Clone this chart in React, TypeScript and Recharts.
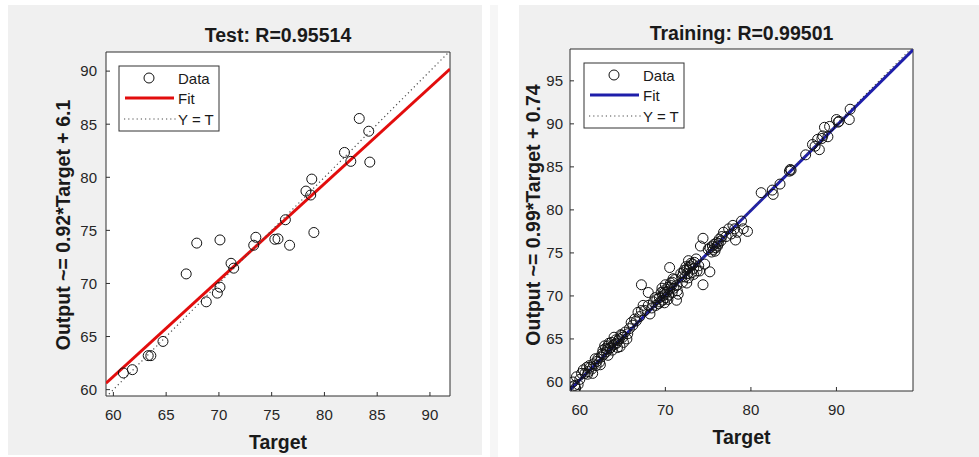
import React from "react";
import { ScatterChart, Scatter, XAxis, YAxis, CartesianGrid } from "recharts";

const FONT = '"Liberation Sans", Arial, Helvetica, sans-serif';

// ---- Test set ----
const testTarget = [
  60.95, 61.8, 63.3, 63.55, 64.7, 66.9, 67.9, 68.8, 69.85, 70.1, 70.1, 71.15, 71.4, 73.3,
  73.5, 75.3, 75.6, 76.3, 76.7, 78.25, 78.7, 78.8, 79.0, 81.9, 82.5, 83.3, 84.2, 84.3,
];
const testOutput = [
  61.57, 61.88, 63.2, 63.2, 64.54, 70.9, 73.8, 68.27, 69.09, 69.65, 74.1, 71.9, 71.44, 73.6,
  74.35, 74.16, 74.2, 76.0, 73.6, 78.7, 78.33, 79.83, 74.8, 82.34, 81.5, 85.54, 84.34, 81.43,
];
const testFitX = [59.3, 91.9];
const testFitY = [60.6, 90.2];
const testLimits = [59.3, 91.9];
const testXTicks = [60, 65, 70, 75, 80, 85, 90];
const testYTicks = [60, 65, 70, 75, 80, 85, 90];

// ---- Training set ----
const trainTarget = [
  59.2, 59.4, 59.8, 59.6, 60.2, 60.4, 60.8, 61.0, 61.2, 61.6, 61.8, 61.9, 62.1, 62.3, 62.5,
  62.7, 62.9, 63.1, 63.3, 63.3, 63.5, 63.7, 64.0, 64.1, 64.5, 64.7, 64.9, 65.1, 65.3, 65.5,
  65.8, 66.0, 66.6, 66.8, 67.2, 67.2, 67.4, 67.6, 68.0, 68.0, 68.2, 68.6, 68.8, 69.0, 69.2,
  69.3, 69.5, 69.7, 69.7, 69.9, 70.1, 70.3, 70.5, 70.5, 70.7, 70.8, 70.9, 71.3, 71.3, 71.5,
  71.9, 72.1, 72.3, 72.5, 72.5, 72.7, 72.9, 73.1, 73.2, 73.3, 73.6, 73.9, 74.1, 74.4, 74.4,
  74.6, 75.0, 75.2, 75.2, 75.4, 75.5, 75.8, 76.0, 76.1, 76.3, 76.5, 76.8, 77.1, 77.4, 77.7,
  78.1, 78.2, 78.4, 78.9, 79.1, 79.6, 81.2, 82.5, 82.6, 83.4, 84.5, 84.7, 86.4, 87.2, 87.5,
  87.8, 88.0, 88.4, 88.6, 89.0, 89.2, 90.0, 90.3, 91.5, 91.6, 60.6, 61.4, 62.0, 62.8, 63.0,
  63.6, 63.9, 64.3, 64.6, 65.0, 65.6, 66.2, 66.4, 67.0, 69.4, 69.8, 70.0, 70.2, 70.6, 71.0,
  71.8, 72.2, 72.6, 72.8, 73.4, 75.6, 75.9, 76.2, 84.6, 88.3, 90.2, 60.0, 59.5, 63.2, 63.4,
  63.8, 64.2, 64.4, 64.8, 62.6, 62.4, 61.5, 61.1, 60.9, 69.6, 69.9, 70.3, 70.4, 70.0, 70.8,
  71.1, 71.4, 68.4, 68.9, 72.4, 72.7, 73.0, 73.3, 72.0, 73.7, 74.0, 75.7, 76.6, 77.9,
];
const trainOutput = [
  60.0, 59.6, 59.7, 60.6, 61.0, 61.4, 61.7, 61.2, 61.7, 62.1, 62.7, 61.9, 62.7, 62.3, 62.9,
  63.7, 64.2, 63.5, 63.1, 64.2, 63.9, 64.6, 65.2, 64.4, 64.8, 64.1, 65.4, 64.6, 65.8, 65.0,
  66.2, 66.9, 67.1, 68.1, 68.3, 71.3, 68.9, 68.3, 70.4, 68.9, 67.9, 69.3, 69.8, 69.6, 69.1,
  69.8, 70.4, 69.5, 70.0, 70.4, 69.8, 71.0, 70.8, 73.3, 71.2, 70.4, 72.0, 71.2, 69.5, 70.2,
  72.2, 72.7, 72.2, 73.1, 71.5, 74.1, 73.5, 72.7, 73.7, 73.2, 74.3, 73.5, 75.8, 76.7, 71.3,
  73.7, 75.4, 75.6, 72.8, 75.1, 75.8, 75.2, 76.2, 75.8, 76.6, 76.4, 77.4, 76.9, 77.8, 77.2,
  77.8, 76.5, 77.4, 78.7, 77.8, 77.5, 82.0, 82.3, 81.8, 83.0, 84.5, 84.6, 86.4, 87.6, 87.4,
  88.2, 87.0, 88.6, 89.6, 88.5, 89.7, 90.5, 90.3, 90.5, 91.7, 61.0, 61.5, 62.4, 63.2, 63.9,
  64.0, 64.3, 64.5, 65.0, 65.2, 65.6, 66.6, 67.3, 67.6, 69.3, 70.6, 70.2, 70.5, 71.5, 70.9,
  72.6, 73.0, 72.6, 73.3, 73.9, 75.4, 75.6, 76.1, 84.7, 88.3, 90.2, 60.3, 59.3, 63.8, 64.5,
  63.7, 64.9, 64.0, 65.5, 63.3, 62.0, 61.0, 61.9, 60.9, 70.9, 69.2, 69.6, 70.1, 71.3, 71.6,
  71.9, 70.6, 68.6, 68.9, 73.4, 72.1, 73.8, 72.5, 71.6, 72.9, 72.9, 76.0, 76.9, 78.2,
];
const trainFitX = [58.85, 98.95];
const trainFitY = [59.1, 98.6];
const trainLimits = [58.85, 98.95];
const trainXTicks = [60, 70, 80, 90];
const trainYTicks = [60, 65, 70, 75, 80, 85, 90, 95];

const pairs = (xs: number[], ys: number[]) => xs.map((x, i) => ({ x, y: ys[i] }));

function Ring(props: any) {
  const { cx, cy } = props;
  if (cx == null || cy == null) return <g />;
  return <circle cx={cx} cy={cy} r={5} fill="none" stroke="#111" strokeWidth={1} />;
}
const NoDot = () => <g />;

const axisColor = "#2e2e2e";
const tickFont = { fill: "#262626", fontSize: 15, fontFamily: FONT };

interface PanelProps {
  left: number;
  top: number;
  width: number;
  height: number;
  margin: { top: number; right: number; bottom: number; left: number };
  xDomain: number[];
  yDomain: number[];
  xTicks: number[];
  yTicks: number[];
  points: { x: number; y: number }[];
  fit: { x: number; y: number }[];
  identity: { x: number; y: number }[];
  fitColor: string;
  title: string;
  yLabel: string;
  titleAt: [number, number];
  yLabelAt: [number, number];
  xLabelAt: [number, number];
  legendAt: [number, number];
  yTickMargin: number;
}

function Panel(p: PanelProps) {
  const [lx, ly] = p.legendAt;
  return (
    <div
      style={{
        position: "absolute",
        left: p.left,
        top: p.top,
        width: p.width,
        height: p.height,
        background: "#f0f0f0",
      }}
    >
      <ScatterChart width={p.width} height={p.height} margin={p.margin}>
        <CartesianGrid xAxisId="b" yAxisId="l" fill="#fff" horizontal={false} vertical={false} />
        <XAxis
          xAxisId="b"
          type="number"
          dataKey="x"
          domain={p.xDomain}
          ticks={p.xTicks}
          allowDataOverflow
          height={30}
          tickSize={-4}
          tickMargin={17}
          stroke={axisColor}
          tick={tickFont}
        />
        {/* top edge of the box, inward ticks only */}
        <XAxis
          xAxisId="t"
          orientation="top"
          type="number"
          dataKey="x"
          domain={p.xDomain}
          ticks={p.xTicks}
          allowDataOverflow
          height={1}
          tickSize={-4}
          tick={false}
          stroke={axisColor}
        />
        <YAxis
          yAxisId="l"
          type="number"
          dataKey="y"
          domain={p.yDomain}
          ticks={p.yTicks}
          allowDataOverflow
          width={40}
          tickSize={-4}
          tickMargin={p.yTickMargin}
          stroke={axisColor}
          tick={tickFont}
        />
        {/* right edge of the box */}
        <YAxis
          yAxisId="r"
          orientation="right"
          type="number"
          dataKey="y"
          domain={p.yDomain}
          ticks={p.yTicks}
          allowDataOverflow
          width={1}
          tickSize={-4}
          tick={false}
          stroke={axisColor}
        />
        <Scatter
          data={p.fit}
          xAxisId="b"
          yAxisId="l"
          line={{ stroke: p.fitColor, strokeWidth: 3 }}
          shape={NoDot}
          isAnimationActive={false}
        />
        <Scatter
          data={p.identity}
          xAxisId="b"
          yAxisId="l"
          line={{ stroke: "#4a4a4a", strokeWidth: 1.2, strokeDasharray: "1.2 3" }}
          shape={NoDot}
          isAnimationActive={false}
        />
        <Scatter
          data={p.points}
          xAxisId="b"
          yAxisId="l"
          shape={<Ring />}
          isAnimationActive={false}
        />
      </ScatterChart>
      <svg
        width={p.width}
        height={p.height}
        style={{ position: "absolute", left: 0, top: 0, pointerEvents: "none" }}
        fontFamily={FONT}
      >
        <text x={p.titleAt[0]} y={p.titleAt[1]} textAnchor="middle" fontSize={19.5} fontWeight="bold" fill="#1a1a1a">
          {p.title}
        </text>
        <text
          x={p.yLabelAt[0]}
          y={p.yLabelAt[1]}
          textAnchor="middle"
          dominantBaseline="central"
          fontSize={19.5}
          fontWeight="bold"
          fill="#1a1a1a"
          transform={`rotate(-90 ${p.yLabelAt[0]} ${p.yLabelAt[1]})`}
        >
          {p.yLabel}
        </text>
        <text x={p.xLabelAt[0]} y={p.xLabelAt[1]} textAnchor="middle" dominantBaseline="central" fontSize={19.5} fontWeight="bold" fill="#1a1a1a">
          Target
        </text>
        {/* legend */}
        <rect x={lx} y={ly} width={100} height={65} fill="#fff" stroke="#333" strokeWidth={1} />
        <circle cx={lx + 30} cy={ly + 12} r={5} fill="none" stroke="#111" strokeWidth={1} />
        <text x={lx + 59} y={ly + 17.5} fontSize={15} fill="#1a1a1a">Data</text>
        <line x1={lx + 6} x2={lx + 55} y1={ly + 32} y2={ly + 32} stroke={p.fitColor} strokeWidth={3} />
        <text x={lx + 59} y={ly + 37.5} fontSize={15} fill="#1a1a1a">Fit</text>
        <line x1={lx + 5} x2={lx + 58} y1={ly + 53} y2={ly + 53} stroke="#4a4a4a" strokeWidth={1.2} strokeDasharray="1.2 3" />
        <text x={lx + 59} y={ly + 58.5} fontSize={15} fill="#1a1a1a">Y = T</text>
      </svg>
    </div>
  );
}

export default function App() {
  return (
    <div
      style={{
        position: "fixed",
        left: 0,
        top: 0,
        width: 979,
        height: 457,
        background: "#fff",
        overflow: "hidden",
        fontFamily: FONT,
      }}
    >
      <Panel
        left={8}
        top={5}
        width={474}
        height={450}
        margin={{ top: 46, right: 31, bottom: 29, left: 58 }}
        xDomain={testLimits}
        yDomain={[59.4, 91.8]}
        xTicks={testXTicks}
        yTicks={testYTicks}
        points={pairs(testTarget, testOutput)}
        fit={pairs(testFitX, testFitY)}
        identity={pairs(testLimits, testLimits)}
        fitColor="#e20d0d"
        title="Test: R=0.95514"
        yLabel="Output ~= 0.92*Target + 6.1"
        titleAt={[270, 37]}
        yLabelAt={[55, 220]}
        xLabelAt={[270, 437]}
        legendAt={[111, 61]}
        yTickMargin={13}
      />
      <div style={{ position: "absolute", left: 490, top: 5, width: 8, height: 452, background: "#f6f6f6" }} />
      <Panel
        left={519}
        top={5}
        width={460}
        height={452}
        margin={{ top: 43, right: 65, bottom: 36, left: 11 }}
        xDomain={trainLimits}
        yDomain={[58.95, 98.7]}
        xTicks={trainXTicks}
        yTicks={trainYTicks}
        points={pairs(trainTarget, trainOutput)}
        fit={pairs(trainFitX, trainFitY)}
        identity={pairs(trainLimits, trainLimits)}
        fitColor="#1e1eaa"
        title="Training: R=0.99501"
        yLabel="Output ~= 0.99*Target + 0.74"
        titleAt={[222.5, 35]}
        yLabelAt={[14, 210]}
        xLabelAt={[222.5, 432]}
        legendAt={[65, 58]}
        yTickMargin={11}
      />
    </div>
  );
}
